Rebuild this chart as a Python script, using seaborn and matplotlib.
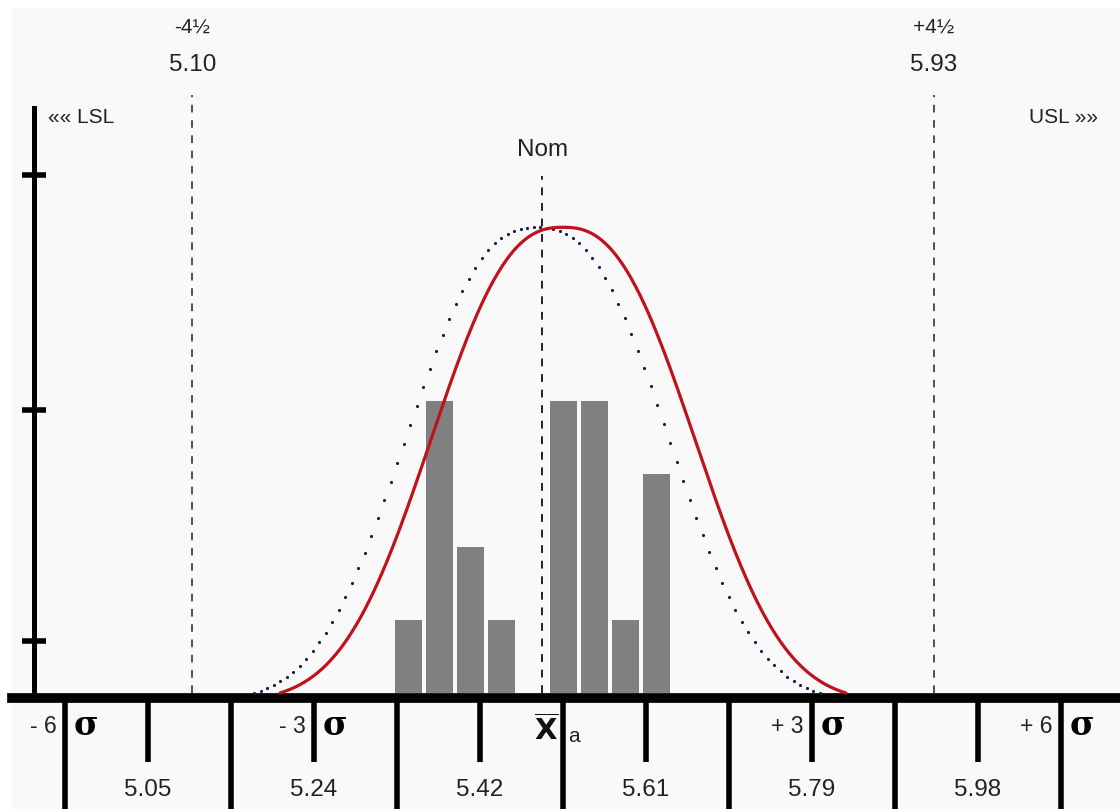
import numpy as np
import pandas as pd
import matplotlib
matplotlib.use("Agg")
import matplotlib.pyplot as plt
import seaborn as sns
from matplotlib.patches import Rectangle

# process statistics
x_bar = 5.515
sigma = 0.0929
nominal = 5.492
lsl = 5.10
usl = 5.93

# histogram of the sample
bin_centers = [5.342, 5.377, 5.411, 5.446, 5.481, 5.516, 5.551, 5.585, 5.620]
bar_counts = [1, 4, 2, 1, 0, 4, 4, 1, 3]
bin_width = 0.0348

# fitted curves (red = actual centre, dotted = shifted toward nominal)
curve_peak = 6.38
curve_scale = 0.1821
curve_shape = 2.5
curve_cut = 0.3168
dotted_center = 5.486
dot_step = 0.00728

# axis ticks
major_sigmas = [-6, -4, -2, 0, 2, 4, 6]
minor_sigmas = [-5, -3, -1, 1, 3, 5]
minor_labels = ["5.05", "5.24", "5.42", "5.61", "5.79", "5.98"]
sigma_marks = [-6, -3, 3, 6]
sigma_mark_labels = ["- 6", "- 3", "+ 3", "+ 6"]
y_ticks = [0.71, 3.88, 7.10]

FONT = ["Liberation Sans", "DejaVu Sans"]
TXT = "#222222"


def fitted_curve(center, xs):
    u = np.abs(xs - center) / curve_scale
    floor = np.exp(-(curve_cut / curve_scale) ** curve_shape)
    return curve_peak * (np.exp(-u ** curve_shape) - floor) / (1 - floor)


sns.set_theme(style="white")
plt.rcParams["font.family"] = FONT

fig = plt.figure(figsize=(11.2, 8.09), dpi=100)
fig.patch.set_facecolor("white")
fig.add_artist(Rectangle((12 / 1120, 0), 1, 1 - 8 / 809, transform=fig.transFigure,
                         facecolor="#f9f9f9", edgecolor="none", zorder=0))
ax = fig.add_axes([12 / 1120, 111 / 809, 1108 / 1120, 590 / 809])
ax.set_facecolor("none")

# bars
df_bars = pd.DataFrame({"value": bin_centers, "count": bar_counts})
sns.histplot(data=df_bars, x="value", weights="count", binwidth=bin_width,
             binrange=(bin_centers[0] - bin_width / 2, bin_centers[-1] + bin_width / 2),
             shrink=0.87, color="#808080", alpha=1, linewidth=0, ax=ax, zorder=2)

# curves
xs = np.linspace(x_bar - curve_cut, x_bar + curve_cut, 400)
sns.lineplot(x=xs, y=fitted_curve(x_bar, xs), color="#c0121c", lw=2.3, ax=ax, zorder=4)
xd = np.arange(dotted_center - curve_cut, dotted_center + curve_cut + 1e-9, dot_step)
sns.scatterplot(x=xd, y=fitted_curve(dotted_center, xd), s=5, color="#15154a",
                linewidth=0, ax=ax, zorder=3)

# limit and nominal lines
ax.vlines([lsl, usl], 0, 8.19, colors=TXT, linestyles=(0, (5, 5)), lw=1.1, clip_on=False, zorder=1)
ax.vlines(nominal, 0, 7.08, colors=TXT, linestyles=(0, (4, 4)), lw=1.4, clip_on=False, zorder=1)

ax.set_xlim(4.8983, 6.1385)
ax.set_ylim(-0.0685, 8.014)
ax.set(xlabel="", ylabel="")

# spines and ticks
for s in ["top", "right"]:
    ax.spines[s].set_visible(False)
ax.spines["bottom"].set_linewidth(7)
ax.spines["bottom"].set_color("black")
ax.spines["left"].set_position(("data", 4.9234))
ax.spines["left"].set_linewidth(3.6)
ax.spines["left"].set_color("black")

ax.set_yticks(y_ticks, labels=[""] * len(y_ticks))
ax.tick_params(axis="y", direction="inout", length=17, width=4, color="black", left=True)

ax.set_xticks([x_bar + k * sigma for k in major_sigmas], labels=[""] * len(major_sigmas))
ax.set_xticks([x_bar + k * sigma for k in minor_sigmas], labels=minor_labels, minor=True)
ax.tick_params(axis="x", which="major", direction="out", length=85, width=4, color="black", bottom=True)
ax.tick_params(axis="x", which="minor", direction="out", length=46, width=4, color="black", bottom=True,
               pad=12, labelsize=17.5, labelcolor=TXT)

# sigma labels below the axis
for k, lab in zip(sigma_marks, sigma_mark_labels):
    xk = x_bar + k * sigma
    ax.annotate(lab, xy=(xk, -0.46), xytext=(-8, 0), textcoords="offset pixels",
                ha="right", va="center", fontsize=16.5, color=TXT, annotation_clip=False)
    ax.annotate("σ", xy=(xk, -0.45), xytext=(9, 0), textcoords="offset pixels",
                ha="left", va="center", fontsize=24, fontweight="bold", color="black",
                family=["DejaVu Serif"], annotation_clip=False)
ax.annotate(r"$\overline{\mathbf{X}}$", xy=(x_bar, -0.51), xytext=(-5, 0), textcoords="offset pixels",
            ha="right", va="center", fontsize=21, color="#111111", annotation_clip=False)
ax.annotate("a", xy=(x_bar, -0.59), xytext=(5, 0), textcoords="offset pixels",
            ha="left", va="center", fontsize=15, color=TXT, annotation_clip=False)

# labels above the chart
ax.text(lsl, 9.12, "-4½", ha="center", va="center", fontsize=15, color=TXT)
ax.text(lsl, 8.60, "5.10", ha="center", va="center", fontsize=17.5, color=TXT)
ax.text(usl, 9.12, "+4½", ha="center", va="center", fontsize=15, color=TXT)
ax.text(usl, 8.60, "5.93", ha="center", va="center", fontsize=17.5, color=TXT)
ax.text(4.9386, 7.88, "«« LSL", ha="left", va="center", fontsize=15, color=TXT)
ax.text(6.1138, 7.88, "USL »»", ha="right", va="center", fontsize=15, color=TXT)
ax.text(nominal, 7.44, "Nom", ha="center", va="center", fontsize=17.5, color=TXT)

fig.savefig("out.png", dpi=100, facecolor=fig.get_facecolor())
